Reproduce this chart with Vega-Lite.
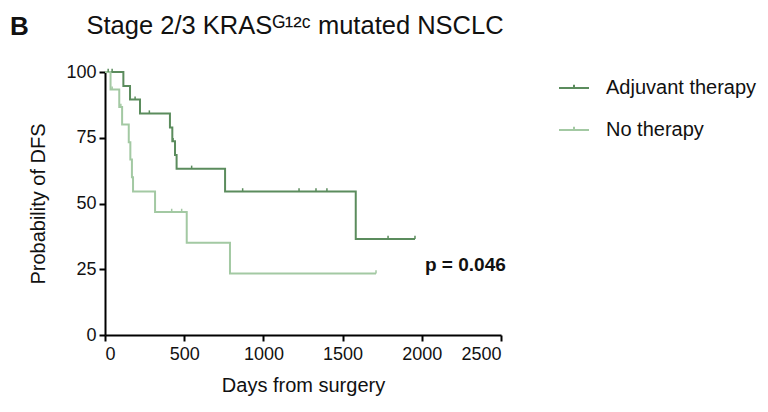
{
  "$schema": "https://vega.github.io/schema/vega-lite/v6.json",
  "width": 396,
  "height": 263,
  "autosize": {"type": "none"},
  "padding": {"left": 105, "top": 72, "right": 267, "bottom": 77},
  "background": "white",
  "title": {
    "text": "B",
    "subtitle": "\u200b\u2003\u2003\u2003Stage 2/3 KRASᴳ¹²ᶜ mutated NSCLC",
    "anchor": "start",
    "frame": "group",
    "dx": -95,
    "offset": 23,
    "font": "Liberation Sans",
    "fontSize": 26,
    "fontWeight": "bold",
    "color": "#111111",
    "subtitleFont": "Liberation Sans",
    "subtitleFontSize": 25.5,
    "subtitleColor": "#111111",
    "subtitlePadding": -26
  },
  "datasets": {
    "curves": [
      {"group": "Adjuvant therapy", "day": 0, "surv": 100},
      {"group": "Adjuvant therapy", "day": 116, "surv": 94.7},
      {"group": "Adjuvant therapy", "day": 158, "surv": 89.5},
      {"group": "Adjuvant therapy", "day": 221, "surv": 84.2},
      {"group": "Adjuvant therapy", "day": 410, "surv": 78.9},
      {"group": "Adjuvant therapy", "day": 425, "surv": 73.7},
      {"group": "Adjuvant therapy", "day": 442, "surv": 68.4},
      {"group": "Adjuvant therapy", "day": 452, "surv": 63.2},
      {"group": "Adjuvant therapy", "day": 758, "surv": 54.6},
      {"group": "Adjuvant therapy", "day": 1583, "surv": 36.5},
      {"group": "Adjuvant therapy", "day": 1957, "surv": 36.5},
      {"group": "No therapy", "day": 0, "surv": 100},
      {"group": "No therapy", "day": 35, "surv": 93.3},
      {"group": "No therapy", "day": 90, "surv": 86.7},
      {"group": "No therapy", "day": 108, "surv": 80},
      {"group": "No therapy", "day": 150, "surv": 73.3},
      {"group": "No therapy", "day": 160, "surv": 66.7},
      {"group": "No therapy", "day": 170, "surv": 60},
      {"group": "No therapy", "day": 177, "surv": 54.6},
      {"group": "No therapy", "day": 316, "surv": 46.8},
      {"group": "No therapy", "day": 516, "surv": 35.1},
      {"group": "No therapy", "day": 789, "surv": 23.4},
      {"group": "No therapy", "day": 1711, "surv": 23.4}
    ],
    "censors": [
      {"group": "Adjuvant therapy", "day": 20, "surv": 100},
      {"group": "Adjuvant therapy", "day": 45, "surv": 100},
      {"group": "Adjuvant therapy", "day": 190, "surv": 89.5},
      {"group": "Adjuvant therapy", "day": 280, "surv": 84.2},
      {"group": "Adjuvant therapy", "day": 430, "surv": 73.7},
      {"group": "Adjuvant therapy", "day": 547, "surv": 63.2},
      {"group": "Adjuvant therapy", "day": 869, "surv": 54.6},
      {"group": "Adjuvant therapy", "day": 1225, "surv": 54.6},
      {"group": "Adjuvant therapy", "day": 1332, "surv": 54.6},
      {"group": "Adjuvant therapy", "day": 1401, "surv": 54.6},
      {"group": "Adjuvant therapy", "day": 1787, "surv": 36.5},
      {"group": "Adjuvant therapy", "day": 1957, "surv": 36.5},
      {"group": "No therapy", "day": 45, "surv": 93.3},
      {"group": "No therapy", "day": 100, "surv": 86.7},
      {"group": "No therapy", "day": 421, "surv": 46.8},
      {"group": "No therapy", "day": 484, "surv": 46.8},
      {"group": "No therapy", "day": 1711, "surv": 23.4}
    ]
  },
  "layer": [
    {
      "data": {"name": "curves"},
      "mark": {"type": "line", "interpolate": "step-after", "strokeWidth": 2},
      "encoding": {
        "x": {
          "field": "day", "type": "quantitative",
          "scale": {"domain": [0, 2500], "nice": false},
          "axis": {"values": [0, 500, 1000, 1500, 2000, 2500], "format": "d", "title": "Days from surgery"}
        },
        "y": {
          "field": "surv", "type": "quantitative",
          "scale": {"domain": [0, 100], "nice": false},
          "axis": {"values": [0, 25, 50, 75, 100], "title": "Probability of DFS"}
        },
        "color": {
          "field": "group", "type": "nominal",
          "scale": {"domain": ["Adjuvant therapy", "No therapy"], "range": ["#5b8c5d", "#a3c9a3"]},
          "legend": {
            "title": null,
            "orient": "none",
            "legendX": 453,
            "legendY": 0,
            "symbolType": "M-1,0H1M0,0V-0.22",
            "symbolSize": 900,
            "symbolStrokeWidth": 2,
            "symbolFillColor": "transparent",
            "labelFont": "Liberation Sans",
            "labelFontSize": 20,
            "labelColor": "#111111",
            "labelOffset": 16,
            "rowPadding": 16
          }
        }
      }
    },
    {
      "data": {"name": "censors"},
      "mark": {"type": "point", "shape": "M0,-1V0", "size": 40, "strokeWidth": 1.5, "filled": false, "opacity": 1},
      "encoding": {
        "x": {"field": "day", "type": "quantitative"},
        "y": {"field": "surv", "type": "quantitative"},
        "color": {"field": "group", "type": "nominal", "legend": null}
      }
    },
    {
      "data": {"values": [{"label": "p = 0.046"}]},
      "mark": {"type": "text", "font": "Liberation Sans", "fontSize": 19, "fontWeight": "bold", "align": "left", "baseline": "middle", "color": "#111111"},
      "encoding": {
        "x": {"datum": 2020},
        "y": {"datum": 26.6},
        "text": {"field": "label", "type": "nominal"}
      }
    }
  ],
  "config": {
    "view": {"stroke": null},
    "axis": {
      "grid": false,
      "domainColor": "#000000",
      "domainWidth": 2,
      "tickColor": "#000000",
      "tickWidth": 2,
      "tickSize": 6,
      "labelFont": "Liberation Sans",
      "labelFontSize": 18,
      "labelColor": "#111111",
      "titleFont": "Liberation Sans",
      "titleFontSize": 20,
      "titleFontWeight": "normal",
      "titleColor": "#111111"
    },
    "axisX": {"labelPadding": 4, "titlePadding": 12},
    "axisY": {"labelPadding": 3, "titlePadding": 17}
  }
}
